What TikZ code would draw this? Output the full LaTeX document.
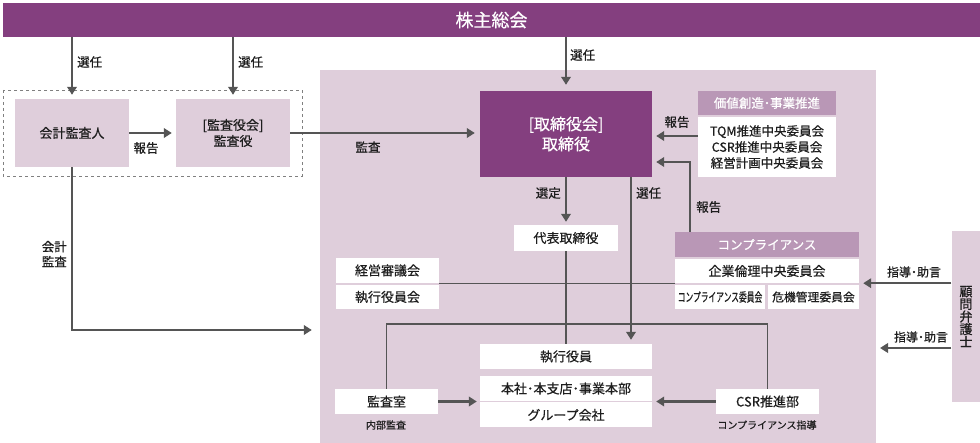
\documentclass[tikz,border=0pt]{standalone}
\usepackage{fontspec}
\usepackage{graphicx}
\setmainfont{Noto Sans CJK JP}[FakeBold=0.6]
\usetikzlibrary{arrows.meta}

\definecolor{plum}{RGB}{132,63,127}
\definecolor{lilac}{RGB}{223,206,219}
\definecolor{heather}{RGB}{185,151,182}
\definecolor{arrowgray}{RGB}{85,85,85}
\definecolor{textgray}{RGB}{30,30,30}

\tikzset{
    box/.style={fill=white, text=textgray, inner sep=0pt, align=center, font=\fontsize{13}{16}\selectfont},
    lightbox/.style={box, fill=lilac},
    darkbox/.style={box, fill=plum, text=white, font=\fontsize{16}{20}\selectfont},
    headbox/.style={box, fill=heather, text=white, font=\fontsize{12.5}{15}\selectfont},
    size/.style 2 args={minimum width=#1pt, minimum height=#2pt},
    lbl/.style={text=textgray, inner sep=0pt, align=center, font=\fontsize{12.5}{15}\selectfont},
    tiny/.style={lbl, font=\fontsize{10}{12}\selectfont},
    arr/.style={draw=arrowgray, line width=2.6pt, -{Triangle[width=9.5pt, length=8pt]}},
    link/.style={draw=arrowgray, line width=1.2pt}
}

\begin{document}
\begin{tikzpicture}[x=1pt, y=-1pt]
    \useasboundingbox (0,0) rectangle (980,443);

    % frame of the company
    \node[fill=lilac, size={556}{373}, inner sep=0pt] (inner) at (598,256.5) {};
    \draw[gray, dashed, line width=0.8pt] (3,90) rectangle (302,176);
    \node[darkbox, size={977}{34}, font=\fontsize{18}{20}\selectfont] (meeting) at (491.5,20) {株主総会};

    % audit side
    \node[lightbox, size={114}{68}] (auditor) at (72,133) {会計監査人};
    \node[lightbox, size={114}{68}] (kansa) at (233,133) {[監査役会]\\監査役};

    % board and committees
    \node[darkbox, size={172}{86}] (board) at (566,134) {[取締役会]\\取締役};
    \node[headbox, size={138}{24}] (valuehead) at (767,103) {価値創造･事業推進};
    \node[box, size={138}{60}, font=\fontsize{12.5}{16}\selectfont] (valuecom) at (767,147) {TQM推進中央委員会\\CSR推進中央委員会\\経営計画中央委員会};
    \node[box, size={104}{26}] (rep) at (566,238) {代表取締役};
    \node[headbox, size={184}{25}] (comphead) at (767,244.5) {コンプライアンス};
    \node[box, size={184}{24}] (ethics) at (767,271) {企業倫理中央委員会};
    \node[box, size={90}{24}] (compcom) at (720,297) {\scalebox{0.62}[1]{\fontsize{12.5}{14}\selectfont コンプライアンス委員会}};
    \node[box, size={91}{24}, font=\fontsize{11.8}{14}\selectfont] (crisis) at (813.5,297) {危機管理委員会};
    \node[box, size={103}{25}] (mgmt) at (387.5,270.5) {経営審議会};
    \node[box, size={103}{24}] (execmeet) at (387.5,297) {執行役員会};

    % execution
    \node[box, size={172}{25}] (officers) at (566,356.5) {執行役員};
    \node[box, size={172}{25}] (branches) at (566,388.5) {本社･本支店･事業本部};
    \node[box, size={172}{25}] (group) at (566,415) {グループ会社};
    \node[box, size={103}{25}] (audit) at (386.5,401.5) {監査室};
    \node[box, size={103}{25}] (csr) at (767.5,401.5) {CSR推進部};
    \node[tiny] (internal) at (386,425) {内部監査};
    \node[tiny] (guide) at (767,425) {コンプライアンス指導};

    \node[lightbox, size={29}{171}, font=\fontsize{13}{12.6}\selectfont] (lawyer) at (966,316.5) {顧\\問\\弁\\護\\士};

    % arrows
    \draw[arr, shorten >=4pt] (meeting.south -| auditor) -- (auditor.north);
    \draw[arr, shorten >=4pt] (meeting.south -| kansa) -- (kansa.north);
    \draw[arr, shorten >=6pt] (meeting.south -| board) -- (board.north);
    \draw[arr, shorten >=4pt] (auditor) -- (kansa);
    \draw[arr, shorten >=5pt] (kansa.east) -- (kansa.east -| board.west);
    \draw[arr, shorten >=4pt] ([yshift=11pt]valuecom.west) -- ([yshift=11pt]valuecom.west -| board.east);
    \draw[arr, shorten >=4pt] ([xshift=-77pt]comphead.north) |- ([yshift=-28pt]board.east);
    \draw[arr, shorten >=3pt] (board) -- (rep);
    \draw[arr, shorten >=4pt] ([xshift=65pt]board.south) -- ([xshift=65pt]officers.north);
    \draw[link] (rep) -- (officers);
    \draw[link] (mgmt.south east) -- (ethics.south west);
    \draw[arr, shorten >=4pt] (lawyer.west |- ethics.south east) -- (ethics.south east);
    \coordinate (advice) at (880,348);
    \draw[arr] (lawyer.west |- advice) -- (advice);
    \draw[arr, shorten >=8pt] (auditor.south) |- (inner.west |- 0,330);
    \draw[link] (audit.north) -- (audit.north |- 0,324) -| (csr.north);
    \draw[arr, shorten >=3pt] (audit.east) -- (audit.east -| branches.west);
    \draw[arr, shorten >=4pt] (csr.west) -- (csr.west -| branches.east);

    % labels
    \node[lbl, anchor=west] (sel1) at (77,62) {選任};
    \node[lbl, anchor=west] (sel2) at (238,62) {選任};
    \node[lbl, anchor=west] (sel3) at (570,55) {選任};
    \node[lbl] (rep1) at (146,148) {報告};
    \node[lbl] (audit1) at (368,147) {監査};
    \node[lbl] (rep2) at (677,122) {報告};
    \node[lbl, anchor=west] (rep3) at (696,207) {報告};
    \node[lbl, anchor=east] (choose) at (561,193) {選定};
    \node[lbl, anchor=west] (sel4) at (636,193) {選任};
    \node[lbl, anchor=east, align=right] (acct) at (67,254) {会計\\監査};
    \node[lbl, font=\fontsize{12}{14}\selectfont] (adv1) at (914,272) {指導･助言};
    \node[lbl, font=\fontsize{12}{14}\selectfont] (adv2) at (921,337) {指導･助言};
\end{tikzpicture}
\end{document}
